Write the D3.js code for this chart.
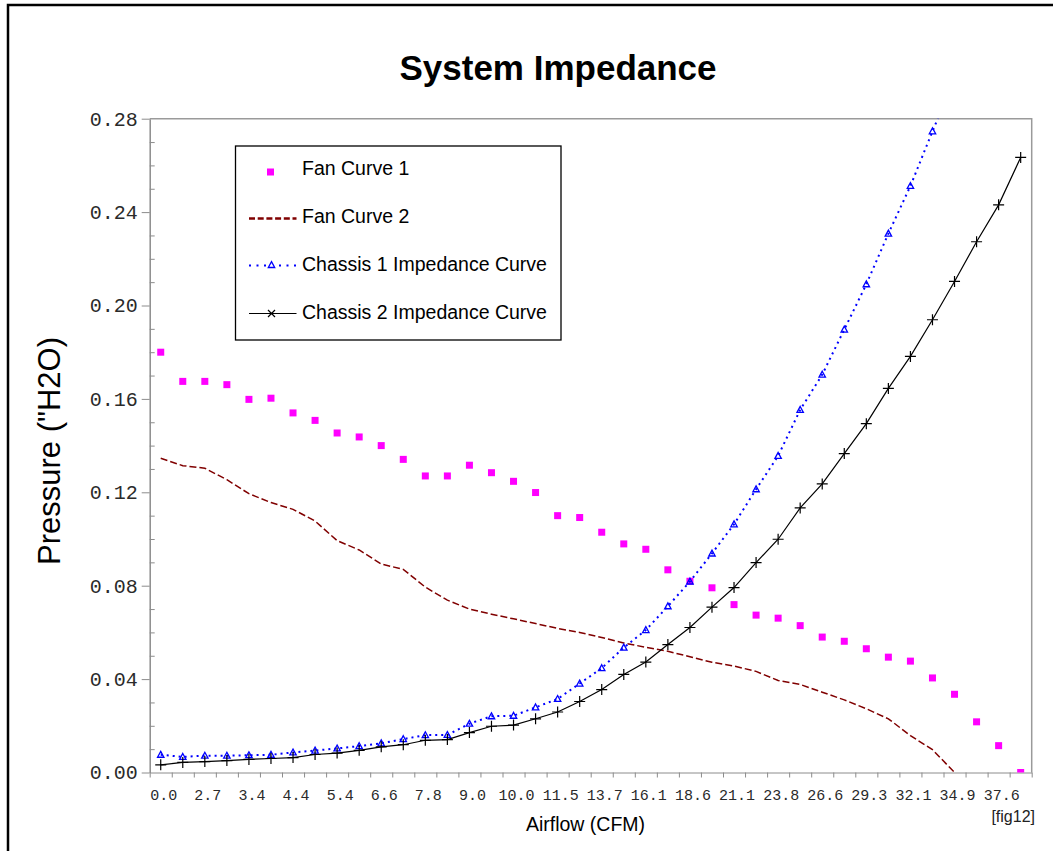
<!DOCTYPE html>
<html>
<head>
<meta charset="utf-8">
<script src="https://cdn.jsdelivr.net/npm/d3@7"></script>
<style>
body{margin:0;background:#fff;}
text{font-family:Arial,"Liberation Sans",sans-serif;}
.tick text{font-family:"Liberation Mono","Courier New",monospace;fill:#2a2a2a;}
.axis path,.axis line{stroke:#8c8c8c;}
</style>
</head>
<body>
<div id="chart"></div>
<script>
// x tick labels, one every second point
var xLabels=["0.0","2.7","3.4","4.4","5.4","6.6","7.8","9.0","10.0","11.5","13.7","16.1","18.6","21.1","23.8","26.6","29.3","32.1","34.9","37.6"];
var npoints=40;

var fanCurve1=[0.1800,0.1675,0.1675,0.1661,0.1598,0.1603,0.1540,0.1508,0.1454,0.1437,
	0.1400,0.1341,0.1270,0.1270,0.1316,0.1284,0.1247,0.1199,0.1100,0.1092,
	0.1029,0.0979,0.0956,0.0868,0.0819,0.0791,0.0719,0.0674,0.0661,0.0629,
	0.0580,0.0562,0.0530,0.0494,0.0477,0.0405,0.0335,0.0217,0.0115,0.0000];
var fanCurve2=[0.1346,0.1314,0.1303,0.1254,0.1194,0.1156,0.1127,0.1077,0.0993,0.0953,
	0.0893,0.0870,0.0794,0.0738,0.0700,0.0678,0.0658,0.0638,0.0617,0.0600,
	0.0578,0.0555,0.0536,0.0519,0.0496,0.0472,0.0456,0.0433,0.0394,0.0377,
	0.0344,0.0311,0.0273,0.0230,0.0158,0.0098,0.0000];
var chassis1=[0.0076,0.0067,0.0072,0.0072,0.0074,0.0076,0.0086,0.0094,0.0103,0.0113,
	0.0125,0.0143,0.0160,0.0161,0.0209,0.0241,0.0243,0.0279,0.0315,0.0381,
	0.0447,0.0535,0.0610,0.0712,0.0818,0.0938,0.1063,0.1213,0.1356,0.1553,
	0.1704,0.1897,0.2091,0.2308,0.2512,0.2746,0.2970];
var chassis2=[0.0033,0.0043,0.0047,0.0051,0.0056,0.0060,0.0064,0.0077,0.0083,0.0095,
	0.0110,0.0119,0.0138,0.0141,0.0171,0.0198,0.0203,0.0230,0.0259,0.0304,
	0.0355,0.0420,0.0473,0.0548,0.0621,0.0708,0.0792,0.0899,0.0999,0.1133,
	0.1236,0.1366,0.1494,0.1645,0.1782,0.1939,0.2103,0.2273,0.2431,0.2634];
var yMajor=[0,0.04,0.08,0.12,0.16,0.20,0.24,0.28];
var yMinor=[0.01,0.02,0.03,0.05,0.06,0.07,0.09,0.10,0.11,0.13,0.14,0.15,0.17,0.18,0.19,0.21,0.22,0.23,0.25,0.26,0.27];

var width=1053,height=851;
var plotL=149.7,plotR=1031.7,plotT=118.7,plotB=772.5;

var svg=d3.select("#chart").append("svg")
	.attr("width",width)
	.attr("height",height);

// frame round the picture
svg.append("rect")
	.attr("x",8).attr("y",5)
	.attr("width",1100).attr("height",900)
	.attr("fill","none").attr("stroke","#000").attr("stroke-width",2.5);

var x=d3.scaleBand().domain(d3.range(npoints)).range([plotL,plotR]);
var xEdge=d3.scaleLinear().domain([0,npoints]).range([plotL,plotR]);
var y=d3.scaleLinear().domain([0,0.28]).range([plotB,plotT]);
var cx=function(i){return x(i)+x.bandwidth()/2;};

svg.append("defs").append("clipPath").attr("id","plotclip")
	.append("rect").attr("x",plotL).attr("y",plotT).attr("width",plotR-plotL).attr("height",plotB-plotT);

// top and right border of the plot
svg.append("path")
	.attr("d","M"+plotL+","+plotT+"H"+plotR+"V"+plotB)
	.attr("fill","none").attr("stroke","#9a9a9a").attr("stroke-width",1.5);

// x axis: ticks on band edges, labels on every second point
svg.append("g").attr("class","axis")
	.attr("transform","translate(0,"+plotB+")")
	.call(d3.axisBottom(xEdge).tickValues(d3.range(npoints+1)).tickFormat("").tickSize(5).tickSizeOuter(0));
var xl=svg.append("g").attr("class","axis")
	.attr("transform","translate(0,"+plotB+")")
	.call(d3.axisBottom(x).tickValues(d3.range(0,npoints,2)).tickFormat(function(d){return xLabels[d/2];}).tickSize(0).tickPadding(17));
xl.select(".domain").remove();
xl.selectAll("text").attr("dx",3).style("font-size","15px");

// y axis
var ya=svg.append("g").attr("class","axis")
	.attr("transform","translate("+plotL+",0)")
	.call(d3.axisLeft(y).tickValues(yMajor).tickFormat(d3.format(".2f")).tickSize(8).tickSizeOuter(0).tickPadding(4));
ya.selectAll("text").style("font-size","20px");
ya.select(".domain").attr("stroke-width",1.5);
svg.append("g").attr("class","axis")
	.attr("transform","translate("+plotL+",0)")
	.call(d3.axisRight(y).tickValues(yMinor).tickFormat("").tickSize(5).tickSizeOuter(0))
	.select(".domain").remove();

// titles
svg.append("text").attr("x",558).attr("y",80)
	.attr("text-anchor","middle")
	.style("font-size","35px").style("font-weight","bold")
	.text("System Impedance");
svg.append("text").attr("transform","translate(60,451) rotate(-90)")
	.attr("text-anchor","middle")
	.style("font-size","31px")
	.text("Pressure (\"H2O)");
svg.append("text").attr("x",585.5).attr("y",831)
	.attr("text-anchor","middle")
	.style("font-size","19.5px")
	.text("Airflow (CFM)");
svg.append("text").attr("x",1035).attr("y",822)
	.attr("text-anchor","end")
	.style("font-size","16px").attr("fill","#222")
	.text("[fig12]");

var plot=svg.append("g").attr("clip-path","url(#plotclip)");

var line=d3.line()
	.x(function(d,i){return cx(i);})
	.y(function(d){return y(d);});

var triangle="M0,-3.4L3.2,2.5H-3.2Z";
var cross="M-5.5,0H5.5M0,-5.5V5.5";

// Fan Curve 1 : squares only
plot.append("g").selectAll("rect")
	.data(fanCurve1)
	.enter().append("rect")
	.attr("x",function(d,i){return cx(i)-3.5;})
	.attr("y",function(d){return y(d)-3.5;})
	.attr("width",7).attr("height",7)
	.attr("fill","#ff00ff");

// Fan Curve 2 : dashed
plot.append("path").datum(fanCurve2)
	.attr("d",line)
	.attr("fill","none").attr("stroke","#800000")
	.attr("stroke-width",1.5).attr("stroke-dasharray","7,3");

// Chassis 1 : dotted + triangles
plot.append("path").datum(chassis1)
	.attr("d",line)
	.attr("fill","none").attr("stroke","#0000ff")
	.attr("stroke-width",2).attr("stroke-dasharray","2,4");
plot.append("g").selectAll("path")
	.data(chassis1)
	.enter().append("path")
	.attr("d",triangle)
	.attr("transform",function(d,i){return "translate("+cx(i)+","+y(d)+")";})
	.attr("fill","none").attr("stroke","#0000ff").attr("stroke-width",1.3);

// Chassis 2 : solid + crosses
plot.append("path").datum(chassis2)
	.attr("d",line)
	.attr("fill","none").attr("stroke","#000")
	.attr("stroke-width",1.2);
plot.append("g").selectAll("path")
	.data(chassis2)
	.enter().append("path")
	.attr("d",cross)
	.attr("transform",function(d,i){return "translate("+cx(i)+","+y(d)+")";})
	.attr("fill","none").attr("stroke","#000").attr("stroke-width",1.2);

// legend
var legend=svg.append("g").attr("transform","translate(235.5,146)");
legend.append("rect")
	.attr("width",325.5).attr("height",194)
	.attr("fill","#fff").attr("stroke","#000").attr("stroke-width",1.3);
var legendNames=["Fan Curve 1","Fan Curve 2","Chassis 1 Impedance Curve","Chassis 2 Impedance Curve"];
var items=legend.selectAll("g.item")
	.data(legendNames)
	.enter().append("g").attr("class","item")
	.attr("transform",function(d,i){return "translate(0,"+(26+i*48)+")";});
items.append("text")
	.attr("x",66.5).attr("y",3)
	.style("font-size","19.5px")
	.text(function(d){return d;});
items.each(function(d,i){
	var g=d3.select(this);
	if(i==0){
		g.append("rect").attr("x",31.5).attr("y",-3.5).attr("width",7).attr("height",7).attr("fill","#ff00ff");
	}else if(i==1){
		g.append("line").attr("x1",13.5).attr("x2",61).attr("y1",-1.5).attr("y2",-1.5)
			.attr("stroke","#800000").attr("stroke-width",2.5).attr("stroke-dasharray","6,2.7");
	}else if(i==2){
		g.append("line").attr("x1",13.5).attr("x2",61).attr("y1",-2.5).attr("y2",-2.5)
			.attr("stroke","#0000ff").attr("stroke-width",2).attr("stroke-dasharray","2,5.5");
		g.append("path").attr("d",triangle).attr("transform","translate(36,-3)")
			.attr("fill","#fff").attr("stroke","#0000ff").attr("stroke-width",1.3);
	}else{
		g.append("line").attr("x1",13.5).attr("x2",61).attr("y1",-2.5).attr("y2",-2.5)
			.attr("stroke","#000").attr("stroke-width",1.2);
		g.append("path").attr("d","M-3.5,-3.5L3.5,3.5M-3.5,3.5L3.5,-3.5").attr("transform","translate(36,-2.5)")
			.attr("stroke","#000").attr("stroke-width",1.2);
	}
});
</script>
</body>
</html>
